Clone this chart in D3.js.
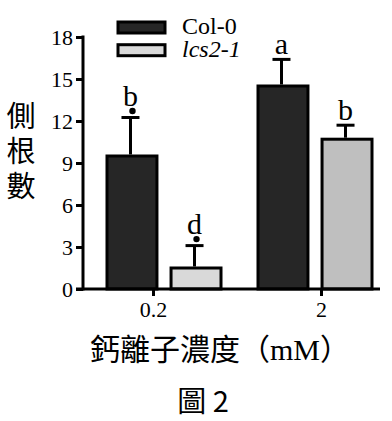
<!DOCTYPE html>
<html><head><meta charset="utf-8">
<script src="https://cdn.jsdelivr.net/npm/d3@7"></script>
<style>
html,body{margin:0;padding:0;background:#fff;}
svg{display:block;}
</style></head>
<body>
<script>
const concentrations = ["0.2", "2"];
const seriesNames = ["Col-0", "lcs2-1"];
const col0Values = [9.5, 14.5];
const lcsValues = [1.5, 10.7];
const col0Errors = [2.75, 1.9];
const lcsErrors = [1.6, 1.0];
const col0Letters = ["b", "a"];
const lcsLetters = ["d", "b"];
const col0Outlier = [true, false];
const lcsOutlier = [true, false];
const yTicks = [0, 3, 6, 9, 12, 15, 18];
const yLabel = "側根數";
const xLabelCJK = "鈣離子濃度";
const xLabelUnit = "mM";
const figureTitle = "圖 2";

const fills = {"Col-0": ["#262626", "#262626"], "lcs2-1": ["#d9d9d9", "#bfbfbf"]};

const rows = [];
concentrations.forEach((c, i) => {
  rows.push({conc: c, series: "Col-0", value: col0Values[i], err: col0Errors[i], letter: col0Letters[i], outlier: col0Outlier[i], fill: fills["Col-0"][i]});
  rows.push({conc: c, series: "lcs2-1", value: lcsValues[i], err: lcsErrors[i], letter: lcsLetters[i], outlier: lcsOutlier[i], fill: fills["lcs2-1"][i]});
});

const W = 392, H = 421;
const svg = d3.select("body").append("svg").attr("width", W).attr("height", H);
const serif = "'Liberation Serif','DejaVu Serif',serif";
const cjk = "'Noto Sans CJK TC','Noto Sans CJK SC',sans-serif";

const y = d3.scaleLinear().domain([0, 18]).range([289, 37]);
const x0 = d3.scaleBand().domain(concentrations).range([88.5, 390.5]).padding(0);
const x1 = d3.scaleBand().domain(seriesNames).range([18.5, 132.5]).paddingInner(0.22);
const xTick = d3.scalePoint().domain(concentrations).range([153, 321]);

// bars
const g = svg.append("g");
g.selectAll("rect.bar").data(rows).join("rect")
  .attr("class", "bar")
  .attr("x", d => x0(d.conc) + x1(d.series))
  .attr("y", d => y(d.value))
  .attr("width", x1.bandwidth())
  .attr("height", d => y(0) - y(d.value))
  .attr("fill", d => d.fill)
  .attr("stroke", "#000").attr("stroke-width", 3);

// error bars
const cx = d => x0(d.conc) + x1(d.series) + x1.bandwidth() / 2 - 1.5;
g.selectAll("line.err").data(rows).join("line")
  .attr("x1", cx).attr("x2", cx)
  .attr("y1", d => y(d.value) - 1.5).attr("y2", d => y(d.value + d.err))
  .attr("stroke", "#000").attr("stroke-width", 3);
g.selectAll("line.cap").data(rows).join("line")
  .attr("x1", d => cx(d) - 9).attr("x2", d => cx(d) + 9)
  .attr("y1", d => y(d.value + d.err)).attr("y2", d => y(d.value + d.err))
  .attr("stroke", "#000").attr("stroke-width", 3);
g.selectAll("circle.out").data(rows.filter(d => d.outlier)).join("circle")
  .attr("cx", d => cx(d) + 2).attr("cy", d => y(d.value + d.err) - 6.5)
  .attr("r", 3.2).attr("fill", "#000");
g.selectAll("text.letter").data(rows).join("text")
  .attr("x", d => cx(d))
  .attr("y", d => y(d.value + d.err) - (d.outlier ? 12 : 5))
  .attr("text-anchor", "middle")
  .attr("font-family", serif).attr("font-size", 30)
  .text(d => d.letter);

// y axis
const yAxis = svg.append("g").attr("transform", "translate(83,0)")
  .call(d3.axisLeft(y).tickValues(yTicks).tickSize(7).tickPadding(3).tickSizeOuter(0));
yAxis.select(".domain").attr("stroke", "#000").attr("stroke-width", 3).attr("d", `M0,${y(18) - 1.5}V${y(0) + 1.5}`);
yAxis.selectAll(".tick line").attr("stroke", "#000").attr("stroke-width", 3);
yAxis.selectAll(".tick text").attr("font-family", serif).attr("font-size", 22).attr("fill", "#000").attr("dy", "0.34em");

// x axis
const xAxis = svg.append("g").attr("transform", `translate(0,${y(0)})`)
  .call(d3.axisBottom(xTick).tickSize(7).tickPadding(5).tickSizeOuter(0));
xAxis.select(".domain").attr("stroke", "#000").attr("stroke-width", 3).attr("d", "M76,0H380");
xAxis.selectAll(".tick line").attr("stroke", "#000").attr("stroke-width", 3);
xAxis.selectAll(".tick text").attr("font-family", serif).attr("font-size", 22).attr("fill", "#000");

// y label (vertical)
svg.append("text")
  .attr("x", 21).attr("y", 101)
  .attr("writing-mode", "vertical-rl")
  .style("writing-mode", "vertical-rl")
  .style("letter-spacing", "6px")
  .attr("font-family", cjk).attr("font-size", 29)
  .text(yLabel);

// x label
const xl = svg.append("text").attr("x", 220).attr("y", 360).attr("text-anchor", "middle")
  .attr("font-family", cjk).attr("font-size", 30);
xl.append("tspan").text(xLabelCJK + "（");
xl.append("tspan").attr("font-family", serif).text(xLabelUnit);
xl.append("tspan").text("）");

// title
svg.append("text").attr("x", 203).attr("y", 412).attr("text-anchor", "middle")
  .attr("font-family", cjk).attr("font-size", 29).text(figureTitle);

// legend
const leg = svg.append("g");
const legFill = ["#262626", "#d9d9d9"];
leg.selectAll("rect").data(seriesNames).join("rect")
  .attr("x", 118).attr("y", (d, i) => 22 + i * 22.7)
  .attr("width", 47).attr("height", 11)
  .attr("fill", (d, i) => legFill[i]).attr("stroke", "#000").attr("stroke-width", 3);
leg.selectAll("text").data(seriesNames).join("text")
  .attr("x", 182).attr("y", (d, i) => 33.5 + i * 23.5)
  .attr("font-family", serif).attr("font-size", 24)
  .attr("font-style", (d, i) => i === 1 ? "italic" : "normal")
  .text(d => d);
</script>
</body></html>
